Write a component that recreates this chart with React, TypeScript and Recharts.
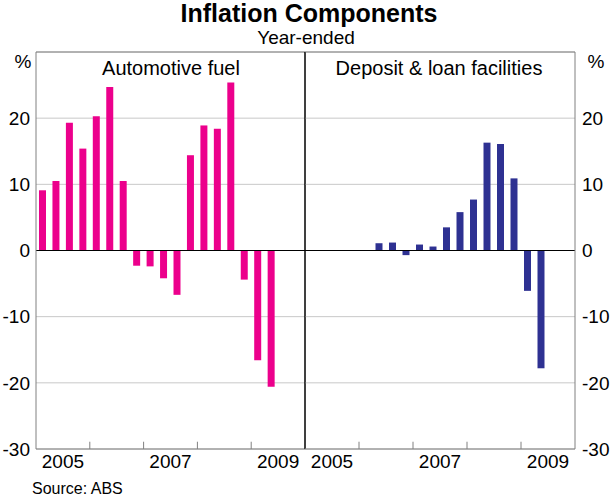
import { Bar, BarChart, CartesianGrid, ReferenceLine, XAxis, YAxis } from "recharts";

const quarters = [
    "Mar-05", "Jun-05", "Sep-05", "Dec-05",
    "Mar-06", "Jun-06", "Sep-06", "Dec-06",
    "Mar-07", "Jun-07", "Sep-07", "Dec-07",
    "Mar-08", "Jun-08", "Sep-08", "Dec-08",
    "Mar-09", "Jun-09", "Sep-09", "Dec-09",
];

const fuel = [
    9.1, 10.5, 19.3, 15.4, 20.3, 24.7, 10.5, -2.3, -2.4, -4.2,
    -6.7, 14.4, 18.9, 18.4, 25.4, -4.4, -16.6, -20.6, null, null,
];

const deposit = [
    null, null, null, null, null, 1.1, 1.2, -0.7, 0.9, 0.6,
    3.5, 5.8, 7.7, 16.3, 16.1, 10.9, -6.1, -17.8, null, null,
];

const yTicks = [-30, -20, -10, 0, 10, 20];
const yearLabels = [2005.5, 2007.5, 2009.5];
const yearBounds = [2006, 2007, 2008, 2009];

const PINK = "#ec008c";
const NAVY = "#2e3192";
const FRAME = "#808080";
const GRID = "#c8c8c8";
const FONT = "Arial, 'Liberation Sans', Helvetica, sans-serif";

// quarter label -> decimal year at the middle of the quarter
const toTime = (q: string) => {
    const months: any = {Mar: 1, Jun: 2, Sep: 3, Dec: 4};
    const [m, yy] = q.split("-");
    return 2000 + Number(yy) + (months[m] - 0.5) / 4;
};

const data = quarters.map((q, i) => ({
    q,
    t: toTime(q),
    fuel: fuel[i],
    deposit: deposit[i],
}));

const tickStyle = {fill: "#000", fontSize: 19, fontFamily: FONT};

function Panel({side}: {side: "left" | "right"}) {
    const isLeft = side === "left";
    return (
        <BarChart
            width={612}
            height={497}
            data={data}
            margin={isLeft
                ? {top: 52, right: 307, bottom: 0, left: 0}
                : {top: 52, right: 0, bottom: 0, left: 305}}
            style={{position: "absolute", left: 0, top: 0}}
        >
            <CartesianGrid horizontal vertical={false} stroke={GRID}/>
            <XAxis
                type="number"
                dataKey="t"
                domain={[2005, 2010]}
                allowDataOverflow
                ticks={yearLabels}
                tickFormatter={(v: number) => String(Math.floor(v))}
                tickLine={false}
                tickSize={0}
                tickMargin={6}
                height={48}
                axisLine={{stroke: FRAME}}
                tick={tickStyle}
            />
            <YAxis
                orientation={isLeft ? "left" : "right"}
                domain={[-30, 30]}
                ticks={yTicks}
                width={isLeft ? 36 : 37}
                tickLine={false}
                tickSize={0}
                tickMargin={isLeft ? 6 : 7}
                axisLine={{stroke: FRAME}}
                tick={tickStyle}
            />
            <ReferenceLine y={30} stroke={FRAME}/>
            <ReferenceLine x={isLeft ? 2010 : 2005} stroke="#000"/>
            {yearBounds.map((b) => (
                <ReferenceLine
                    key={b}
                    segment={[{x: b, y: -30}, {x: b, y: -28.9}]}
                    stroke={FRAME}
                />
            ))}
            <Bar
                dataKey={isLeft ? "fuel" : "deposit"}
                fill={isLeft ? PINK : NAVY}
                barSize={7}
                isAnimationActive={false}
            />
            <ReferenceLine y={0} stroke="#000"/>
        </BarChart>
    );
}

export default function App() {
    return (
        <div style={{position: "relative", width: 612, height: 497, fontFamily: FONT}}>
            <style>{"body{margin:0}"}</style>
            <Panel side="left"/>
            <Panel side="right"/>
            <svg
                width={612}
                height={497}
                style={{position: "absolute", left: 0, top: 0, pointerEvents: "none"}}
                fontFamily={FONT}
            >
                <text x={309} y={22} textAnchor="middle" fontSize={25} fontWeight="bold">
                    Inflation Components
                </text>
                <text x={306} y={44} textAnchor="middle" fontSize={19}>Year-ended</text>
                <text x={171} y={75} textAnchor="middle" fontSize={20}>Automotive fuel</text>
                <text x={439} y={75} textAnchor="middle" fontSize={20}>Deposit &amp; loan facilities</text>
                <text x={23} y={68} textAnchor="middle" fontSize={19}>%</text>
                <text x={596} y={68} textAnchor="middle" fontSize={19}>%</text>
                <text x={32} y={494} fontSize={16}>Source: ABS</text>
            </svg>
        </div>
    );
}
